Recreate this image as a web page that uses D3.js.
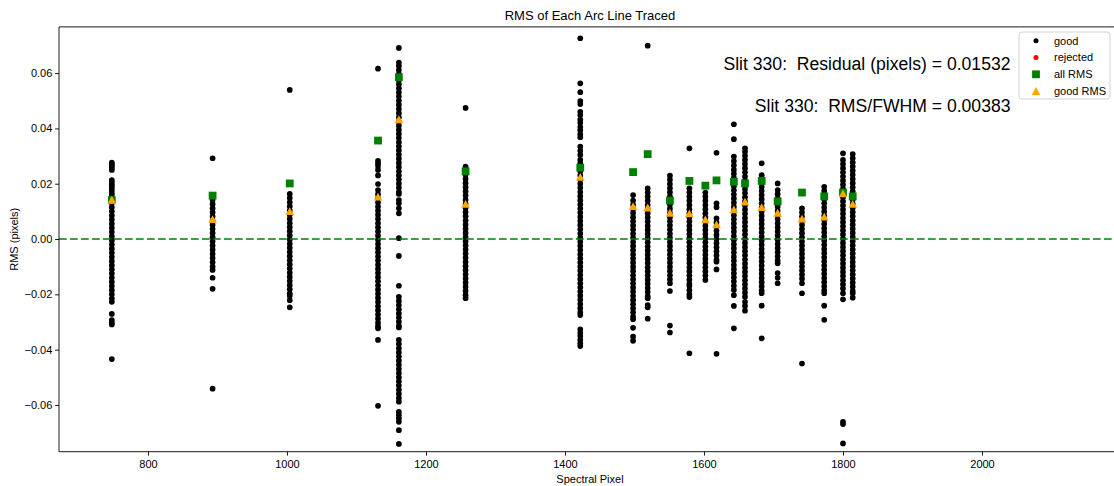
<!DOCTYPE html>
<html><head><meta charset="utf-8">
<script src="https://cdn.jsdelivr.net/npm/d3@7"></script>
<style>
body{margin:0;background:#fff;}
svg{display:block;font-family:"Liberation Sans",Arial,Helvetica,sans-serif;}
</style>
</head><body><svg id="c" width="1114" height="486"></svg>
<script>
// Spectral pixel of each traced arc line
const lineX = [748, 893, 1004, 1131, 1161, 1257, 1422, 1498, 1519, 1551, 1579, 1602, 1618, 1643, 1659, 1683, 1706, 1741, 1773, 1800, 1814];
// Residuals of "good" points for each line (units of 1e-3 pixels)
const goodRes = [
 [27.6,27.0,26.4,25.8,25.0,21.3,20.6,19.8,19.0,18.0,17.0,16,14.5,13,11.5,10,8.5,7,5.5,4,2.5,1,-0.5,-2,-3.5,-5,-6.5,-8,-9.5,-11,-12.5,-14,-15.5,-17,-18.5,-20,-21.5,-22.7,-27.1,-29.3,-30.2,-30.9,-43.4],
 [29.2,14.1,12.6,11.1,9.6,8.1,6.6,5.1,3.6,2.1,0.6,-0.9,-2.4,-3.9,-5.4,-6.9,-8.4,-10.0,-11.2,-14.0,-18.0,-54.1],
 [53.9,16.3,14.8,13.3,11.8,10.3,8.8,7.3,5.8,4.3,2.8,1.3,-0.2,-1.7,-3.2,-4.7,-6.2,-7.7,-9.2,-10.7,-12.2,-13.7,-15.2,-16.7,-18.2,-19.7,-20.5,-22.1,-24.7],
 [61.6,28.3,27.4,26.4,25.0,23.0,19.9,17.7,16.2,14.7,13.2,11.7,10.2,8.7,7.2,5.7,4.2,2.7,1.2,-0.3,-1.8,-3.3,-4.8,-6.3,-7.8,-9.3,-10.8,-12.3,-13.8,-15.3,-16.8,-18.3,-19.8,-21.3,-22.8,-24.3,-25.8,-27.3,-28.8,-30.3,-31.5,-32.3,-36.5,-60.3],
 [69.1,63.8,62.6,61.1,59.6,57.5,56.0,54.5,53.0,51.5,50.0,48.5,47.0,45.5,44.0,42.5,41.0,39.5,38.0,36.5,35.0,33.5,32.0,30.5,29.0,27.5,26.0,24.5,23.0,21.5,20.0,18.5,17.0,16.3,14.1,12.9,11.1,9.3,0.3,-6.1,-16.9,-20.9,-22.4,-23.9,-25.4,-26.9,-28.4,-29.9,-31.4,-32.0,-36.5,-38.0,-39.5,-41.0,-42.5,-44.0,-45.5,-47.0,-48.5,-50.0,-51.5,-53.0,-54.5,-56.0,-57.5,-58.8,-62.5,-63.7,-64.9,-66.1,-69.1,-74.1],
 [47.4,26.2,24.7,23.2,21.7,20.2,18.7,17.2,15.7,14.2,12.7,11.2,9.7,8.2,6.7,5.2,3.7,2.2,0.7,-0.8,-2.3,-3.8,-5.3,-6.8,-8.3,-9.8,-11.3,-12.8,-14.3,-15.8,-17.3,-18.8,-20.3,-21.4],
 [72.6,56.3,53.1,49.9,48.8,46.0,44.8,43.2,42.0,40.5,39.3,37.9,36.8,33.4,31.9,30.4,28.6,27.4,26.0,24.5,23.0,21.5,20.0,18.5,17.0,15.5,14.0,12.5,11.0,9.5,8.0,6.5,5.0,3.5,2.0,0.5,-1.0,-2.5,-4.0,-5.5,-7.0,-8.5,-10.0,-11.5,-13.0,-14.5,-16.0,-17.5,-19.0,-20.5,-22.0,-23.5,-25.0,-26.5,-27.5,-32.7,-34.0,-35.1,-36.5,-37.7,-38.7],
 [15.9,13.9,12.4,10.9,9.4,7.9,6.4,4.9,3.4,1.9,0.4,-1.1,-2.6,-4.1,-5.6,-7.1,-8.6,-10.1,-11.6,-13.1,-14.6,-16.1,-17.6,-19.1,-20.6,-22.1,-23.6,-25.1,-26.6,-28.1,-29.0,-32.1,-35.3,-36.8],
 [69.9,18.3,16.8,15.3,13.8,12.3,10.8,9.3,7.8,6.3,4.8,3.3,1.8,0.3,-1.2,-2.7,-4.2,-5.7,-7.2,-8.7,-10.2,-11.7,-13.2,-14.7,-16.2,-17.7,-19.2,-20.7,-21.4,-23.9,-24.7,-28.8],
 [22.9,21.4,19.9,18.4,16.9,15.4,13.9,12.4,10.9,9.4,7.9,6.4,4.9,3.4,1.9,0.4,-1.1,-2.6,-4.1,-5.6,-7.1,-8.6,-10.1,-11.6,-13.1,-14.6,-16.0,-18.8,-31.3,-33.8],
 [32.8,18.3,16.8,15.3,13.8,12.3,10.8,9.3,7.8,6.3,4.8,3.3,1.8,0.3,-1.2,-2.7,-4.2,-5.7,-7.2,-8.7,-10.2,-11.7,-13.2,-14.7,-16.2,-17.0,-18.5,-20.0,-21.0,-41.3],
 [16.8,15.3,13.8,12.3,10.8,9.3,7.8,6.3,4.8,3.3,1.8,0.3,-1.2,-2.7,-4.2,-5.7,-7.2,-8.7,-10.2,-11.7,-13.2,-14.8],
 [31.2,12.9,11.5,7.5,6.0,4.5,3.0,1.5,0.0,-1.5,-3.0,-4.5,-6.0,-7.5,-8.2,-11.0,-41.5],
 [41.5,36.1,29.8,28.2,26.6,25.0,23.6,22.1,20.6,19.1,17.6,16.1,14.6,13.1,11.6,10.1,8.6,7.1,5.6,4.1,2.6,1.1,-0.4,-1.9,-3.4,-4.9,-6.4,-7.9,-9.4,-10.9,-12.4,-13.9,-15.4,-16.9,-18.4,-20.3,-24.2,-32.3],
 [32.8,31.6,30.1,28.6,27.1,25.6,24.1,22.6,21.1,19.6,18.1,16.6,15.1,13.6,12.1,10.6,9.1,7.6,6.1,4.6,3.1,1.6,0.1,-1.4,-2.9,-4.4,-5.9,-7.4,-8.9,-10.4,-11.9,-13.4,-14.9,-16.4,-17.9,-19.4,-20.9,-22.7,-24.2,-25.9],
 [27.4,23.1,21.9,20.4,18.9,17.4,15.9,14.4,12.9,11.4,9.9,8.4,6.9,5.4,3.9,2.4,0.9,-0.6,-2.1,-3.6,-5.1,-6.6,-8.1,-9.6,-11.1,-12.6,-14.1,-15.6,-17.1,-18.6,-19.6,-24.1,-35.9],
 [20.1,17.7,16.2,14.7,13.2,11.7,10.2,8.7,7.2,5.7,4.2,2.7,1.2,-0.3,-1.8,-3.3,-4.8,-6.3,-7.8,-8.8,-12.3,-14.0,-16.0],
 [11.1,9.6,8.1,6.6,5.1,3.6,2.1,0.6,-0.9,-2.4,-3.9,-5.4,-6.9,-8.4,-9.9,-11.4,-12.9,-14.4,-16.0,-19.6,-45.0],
 [18.9,17.4,15.9,14.4,12.9,11.4,9.9,8.4,6.9,5.4,3.9,2.4,0.9,-0.6,-2.1,-3.6,-5.1,-6.6,-8.1,-9.6,-11.1,-12.6,-14.1,-15.6,-17.1,-18.6,-19.6,-24.1,-29.2],
 [31.0,28.6,27.1,25.6,24.1,22.6,21.1,19.6,18.1,16.6,15.1,13.6,12.1,10.6,9.1,7.6,6.1,4.6,3.1,1.6,0.1,-1.4,-2.9,-4.4,-5.9,-7.4,-8.9,-10.4,-11.9,-13.4,-14.9,-16.4,-17.9,-19.6,-21.8,-66.1,-66.9,-73.9],
 [30.7,29.2,27.7,26.2,24.7,23.2,21.7,20.2,18.7,17.2,15.7,14.2,12.7,11.2,9.7,8.2,6.7,5.2,3.7,2.2,0.7,-0.8,-2.3,-3.8,-5.3,-6.8,-8.3,-9.8,-11.3,-12.8,-14.3,-15.8,-17.3,-18.8,-19.6,-21.2]
];
// Rejected points (none visible in this slit)
const rejectedX = [];
const rejectedRes = [];
// RMS of all points and of good points per line (units of 1e-3 pixels)
const allRMS  = [14.1,15.7,20.1,35.6,58.5,24.5,25.8,24.2,30.7,13.9,21.0,19.3,21.2,20.7,20.1,21.0,13.6,16.8,15.4,16.8,15.4];
const goodRMS = [14.2,7.2,10.1,15.3,43.3,12.7,22.5,11.9,11.4,9.5,9.3,7.1,5.3,10.7,13.5,11.5,9.5,7.4,8.1,16.5,12.7];

const xTicks = [800,1000,1200,1400,1600,1800,2000];
const yTicks = [-0.06,-0.04,-0.02,0,0.02,0.04,0.06];
const titleText = "RMS of Each Arc Line Traced";
const xLabel = "Spectral Pixel";
const yLabel = "RMS (pixels)";
const notes = ["Slit 330:  Residual (pixels) = 0.01532", "Slit 330:  RMS/FWHM = 0.00383"];
const legendLabels = ["good","rejected","all RMS","good RMS"];

const svg = d3.select("#c");
const L = 59, R = 1121, T = 26.9, B = 451.7;
const x = d3.scaleLinear().domain([672, 2200]).range([L, R]);
const y = d3.scaleLinear().domain([-0.0769, 0.0767]).range([B, T]);
const k = 1e-3;

const goodPts = [];
lineX.forEach((lx, i) => goodRes[i].forEach(v => goodPts.push({x: lx, y: v * k})));
const rejPts = rejectedX.map((lx, i) => ({x: lx, y: rejectedRes[i] * k}));

// good points
svg.append("g").selectAll("circle").data(goodPts).join("circle")
  .attr("cx", d => x(d.x)).attr("cy", d => y(d.y)).attr("r", 2.85).attr("fill", "#000");
svg.append("g").selectAll("circle").data(rejPts).join("circle")
  .attr("cx", d => x(d.x)).attr("cy", d => y(d.y)).attr("r", 2.85).attr("fill", "red");

// zero line
svg.append("line").attr("x1", L).attr("x2", R).attr("y1", y(0)).attr("y2", y(0))
  .attr("stroke", "green").attr("stroke-width", 1.7).attr("stroke-dasharray", "7.7,3.3");

// all RMS squares
const sq = 7.8;
svg.append("g").selectAll("rect").data(lineX.map((lx, i) => ({x: lx, y: allRMS[i] * k}))).join("rect")
  .attr("x", d => x(d.x) - sq/2).attr("y", d => y(d.y) - sq/2).attr("width", sq).attr("height", sq)
  .attr("fill", "green");

// good RMS triangles
const tri = (cx, cy, w, h) => `M${cx},${cy - h/2}L${cx + w/2},${cy + h/2}L${cx - w/2},${cy + h/2}Z`;
svg.append("g").selectAll("path").data(lineX.map((lx, i) => ({x: lx, y: goodRMS[i] * k}))).join("path")
  .attr("d", d => tri(x(d.x), y(d.y), 8.6, 7.8)).attr("fill", "orange");

// axes
const xAxis = svg.append("g").attr("transform", `translate(0,${B})`)
  .call(d3.axisBottom(x).tickValues(xTicks).tickSize(3.9).tickFormat(d3.format("d")));
xAxis.select(".domain").remove();
xAxis.selectAll("text").attr("y", 16.6).attr("dy", null).attr("font-size", 11).attr("fill", "#000");
const yAxis = svg.append("g").attr("transform", `translate(${L},0)`)
  .call(d3.axisLeft(y).tickValues(yTicks).tickSize(3.9).tickFormat(d3.format(".2f")));
yAxis.select(".domain").remove();
yAxis.selectAll("text").attr("x", -6.7).attr("font-size", 11).attr("fill", "#000");
svg.selectAll(".tick line").attr("stroke", "#000").attr("stroke-width", 0.9);

// spines
const sp = svg.append("g").attr("stroke", "#000").attr("stroke-width", 0.9);
sp.append("line").attr("x1", L).attr("x2", L).attr("y1", T).attr("y2", B);
sp.append("line").attr("x1", L).attr("x2", R).attr("y1", B).attr("y2", B);
sp.append("line").attr("x1", L).attr("x2", R).attr("y1", T).attr("y2", T);

// title & labels
svg.append("text").attr("x", (L + R) / 2).attr("y", 20).attr("text-anchor", "middle")
  .attr("font-size", 13).text(titleText);
svg.append("text").attr("x", (L + R) / 2).attr("y", 483).attr("text-anchor", "middle")
  .attr("font-size", 11).text(xLabel);
svg.append("text").attr("transform", `translate(17.5,${(T + B) / 2}) rotate(-90)`)
  .attr("text-anchor", "middle").attr("font-size", 11).text(yLabel);

// annotations
svg.selectAll(".note").data(notes).join("text").attr("class", "note")
  .attr("x", 1010.5).attr("y", (d, i) => i === 0 ? 70 : 112.3)
  .attr("text-anchor", "end").attr("font-size", 17.6).style("white-space", "pre").text(d => d);

// legend
const lg = svg.append("g");
lg.append("rect").attr("x", 1019).attr("y", 32).attr("width", 91).attr("height", 67).attr("rx", 3)
  .attr("fill", "#fff").attr("fill-opacity", 0.8).attr("stroke", "#ccc").attr("stroke-width", 0.9);
const rowY = [40.7, 57.6, 74.3, 91];
const mx = 1036;
lg.append("circle").attr("cx", mx).attr("cy", rowY[0]).attr("r", 2.5).attr("fill", "#000");
lg.append("circle").attr("cx", mx).attr("cy", rowY[1]).attr("r", 2.5).attr("fill", "red");
lg.append("rect").attr("x", mx - sq/2).attr("y", rowY[2] - sq/2).attr("width", sq).attr("height", sq).attr("fill", "green");
lg.append("path").attr("d", tri(mx, rowY[3], 8.6, 7.8)).attr("fill", "orange");
lg.selectAll("text").data(legendLabels).join("text")
  .attr("x", 1054).attr("y", (d, i) => rowY[i]).attr("dy", "0.35em").attr("font-size", 11).text(d => d);
</script>
</body></html>
